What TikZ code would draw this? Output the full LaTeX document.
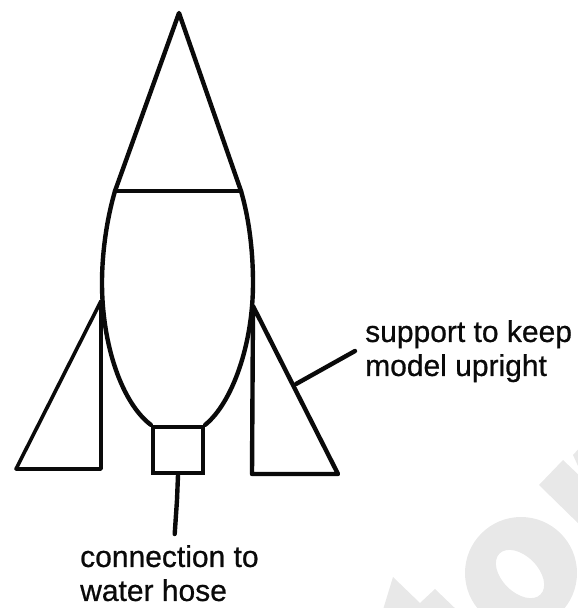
\documentclass[tikz,border=0pt]{standalone}
\usepackage{xcolor}
\usepackage{fontspec}
\setmainfont{Liberation Sans}
\newfontfamily\labelfont[RawFeature={embolden=0.7}]{Liberation Sans}
\usetikzlibrary{calc}
\definecolor{inkline}{RGB}{10, 10, 10}
\definecolor{markgrey}{RGB}{232, 232, 232}
\tikzset{
  outline/.style={draw=inkline, line width=4.4pt, line join=round, line cap=round},
  thinoutline/.style={draw=inkline, line width=3.6pt, line join=round, line cap=round},
  labeltext/.style={
    inner sep=0pt, align=left, text=inkline,
    font=\labelfont\fontsize{30}{34}\selectfont
  },
  hosebox/.style={
    rectangle, draw=inkline, line width=4.4pt,
    minimum width=50pt, minimum height=46pt
  },
  watermark/.style={fill=markgrey, draw=none}
}
\begin{document}
\begin{tikzpicture}[x=1pt, y=-1pt]
  \useasboundingbox (0,0) rectangle (578,608);

  % Background mark
  \begin{scope}
    \clip (0,0) rectangle (578,608);
    \fill[watermark] (393,577) -- (420,603) -- (435,589) -- (460,613) -- (382,613) -- cycle;
    \fill[watermark, even odd rule] (521,573) circle[radius=56]
      (520,574) circle[x radius=29, y radius=18, rotate=-45];
    \fill[watermark] (563,460) -- (539,485) -- (583,528) -- (583,479) -- cycle;
    \fill[watermark] (583,444) -- (573,455) -- (583,477) -- cycle;
  \end{scope}

  % Named points on the outline
  \coordinate (apex) at (179,13);
  \coordinate (shoulderleft) at (115,191);
  \coordinate (shoulderright) at (241,191);
  \coordinate (finlefttop) at (101,301);
  \coordinate (finleftfoot) at (101,469);
  \coordinate (finlefttip) at (16,469);
  \coordinate (finrighttop) at (253,306);
  \coordinate (finrightfoot) at (252,474);
  \coordinate (finrighttip) at (338,474);
  \coordinate (supportfoot) at (296,384);
  \coordinate (hosebend) at (177,500);
  \coordinate (hosefoot) at (174.7,534);

  % Nose cone
  \draw[outline] (shoulderleft) -- (apex) -- (shoulderright);
  \draw[thinoutline] (shoulderleft) -- (shoulderright);

  % Bottle
  \node[hosebox] (hose) at (178,450) {};
  \draw[outline] (shoulderleft) .. controls (106,222) and (102,255) .. (102,283)
    .. controls (102,345) and (122,403) .. (hose.north west);
  \draw[outline] (shoulderright) .. controls (250,222) and (253,255) .. (253,283)
    .. controls (253,345) and (232,403) .. (hose.north east);

  % Support fins
  \draw[thinoutline] (finlefttop) -- (finleftfoot) -- (finlefttip) -- cycle;
  \draw[outline] (finrighttop) -- (finrightfoot) -- (finrighttip) -- cycle;

  % Labels
  \node[labeltext, anchor=north west] (support) at (365,320) {support to keep\\model upright};
  \node[labeltext, anchor=north west] (connection) at (80,545) {connection to\\water hose};

  % Leader lines
  \draw[outline] (support.west |- 0,351) ++(-10,0) -- (supportfoot);
  \draw[outline] (hose.south) -- (hosebend) -- (hosefoot);
\end{tikzpicture}
\end{document}
